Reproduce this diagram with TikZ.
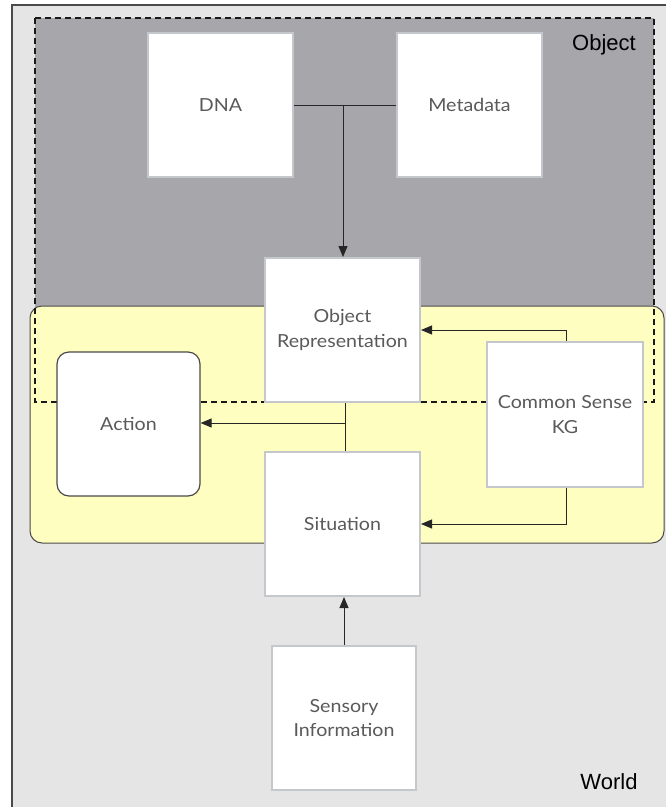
\documentclass[tikz,border=0pt]{standalone}
\usepackage{fontspec}
\setmainfont[FakeStretch=1.09]{Lato}
\newfontfamily\labelfont{Liberation Sans}
\usetikzlibrary{arrows.meta}
\definecolor{worldbg}{HTML}{E5E5E5}
\definecolor{objbg}{HTML}{A7A6AA}
\definecolor{sitbg}{HTML}{FFFEC1}
\definecolor{boxedge}{HTML}{C4C8CC}
\definecolor{txt}{HTML}{5A5A5A}
\definecolor{frameedge}{HTML}{4A4A4A}
\begin{document}
\begin{tikzpicture}[x=1pt,y=-1pt,
  box/.style={draw=boxedge, line width=2pt, fill=white, align=center, text=txt,
    font=\fontsize{18}{24.5}\selectfont, inner sep=0pt},
  conn/.style={draw=black!85, line width=1pt},
  arr/.style={conn, -{Triangle[length=11pt,width=9pt]}},
  region/.style={font=\labelfont\fontsize{22}{24}\selectfont, text=black}]
\useasboundingbox (0,0) rectangle (665,807);
% world frame
\fill[worldbg] (12,5) rectangle (670,812);
\draw[frameedge, line width=1.2pt] (12,812) -- (12,5) -- (670,5);
% object region fill
\fill[objbg] (35,18) rectangle (654,402);
% situation (yellow) region
\draw[fill=sitbg, draw=frameedge, line width=1pt, rounded corners=12pt] (30,306) rectangle (664,543);
% object region dashed border
\draw[black!90, line width=1.4pt, dash pattern=on 6pt off 4pt] (35,18) rectangle (654,402);
% labels
\node[region] (objlabel) at (604,45) {Object};
\node[region] (worldlabel) at (609,782) {World};
% nodes
\node[box, minimum width=145pt, minimum height=144pt] (dna) at (220.5,105) {DNA};
\node[box, minimum width=145pt, minimum height=144pt] (meta) at (469.5,105) {Metadata};
\node[box, minimum width=155pt, minimum height=144pt] (objrep) at (342.5,330) {Object\\Representation};
\node[box, minimum width=156pt, minimum height=145pt] (cskg) at (565,414.5) {Common Sense\\KG};
\node[box, draw=frameedge, line width=1.2pt, rounded corners=12pt, minimum width=143pt, minimum height=144pt] (action) at (128.5,424) {Action};
\node[box, minimum width=155pt, minimum height=144pt] (sit) at (342.5,524) {Situation};
\node[box, minimum width=144pt, minimum height=144pt] (sens) at (344,718) {Sensory\\Information};
% connectors
\coordinate (j1) at (343,105);
\draw[conn] (dna.east) -- (meta.west);
\draw[arr] (j1) -- (j1 |- objrep.north);
\coordinate (j2top) at (345,403);
\coordinate (j2) at (345,423);
\draw[conn] (j2top) -- (j2top |- sit.north);
\draw[arr] (j2) -- (action.east |- j2);
\draw[arr] ([xshift=1pt]cskg.north) |- (objrep.east);
\draw[arr] ([xshift=1pt]cskg.south) |- (sit.east);
\draw[arr] (sens.north) -- (sens.north |- sit.south);
\end{tikzpicture}
\end{document}
